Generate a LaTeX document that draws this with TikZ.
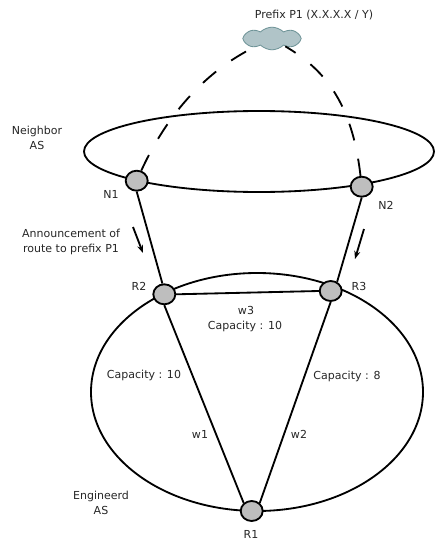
\documentclass[tikz,border=0pt]{standalone}
\usepackage{fontspec}
\setmainfont{DejaVu Sans}
\usetikzlibrary{shapes.geometric,shapes.symbols,arrows.meta}
\definecolor{cloudfill}{HTML}{B0C4C8}
\definecolor{clouddraw}{HTML}{6F9498}
\definecolor{routerfill}{HTML}{BEBEBE}
\definecolor{textgray}{HTML}{262626}
\tikzset{
  router/.style={draw,line width=0.55mm,fill=routerfill,ellipse,minimum width=6.6mm,minimum height=6mm,inner sep=0pt},
  lbl/.style={font=\fontsize{9.4}{12.6}\selectfont,text=textgray,align=center,inner sep=0pt},
  link/.style={line width=0.55mm},
  peering/.style={line width=0.55mm,dash pattern=on 5.2mm off 5.6mm},
  announce/.style={line width=0.55mm,-{Stealth[length=2.4mm,width=1.8mm]}}
}
\begin{document}
\begin{tikzpicture}[x=0.3mm,y=-0.3mm]
\useasboundingbox (0,0) rectangle (434,541);
\draw[link] (259,151.5) ellipse [x radius=175,y radius=40.5];
\draw[link] (257,392) ellipse [x radius=166,y radius=119];
\node[cloud,cloud puffs=8,cloud puff arc=90,aspect=2.8,draw=clouddraw,fill=cloudfill,line width=0.25mm,minimum width=17.5mm,minimum height=6.8mm,inner sep=0pt] (cloud) at (272,38.5) {};
\foreach \n/\x/\y in {N1/136.7/180.7, N2/361.7/186.7, R2/164.3/294.3, R3/330.7/291, R1/251.7/511} { \node[router] (\n) at (\x,\y) {}; }
\draw[link] (N1.south) -- (R2.100);
\draw[link] (N2.south) -- (R3.55);
\draw[link] (R2.east) -- (R3.west);
\draw[link] (R2.south) -- (R1.135);
\draw[link] (R3.south) -- (R1.45);
\draw[peering] (N1) .. controls (168,112) and (208,70) .. (cloud);
\draw[peering] (N2) .. controls (352,100) and (322,68) .. (cloud);
\coordinate (a1) at (133,227); \coordinate (a2) at (143,253);
\coordinate (b1) at (364,229); \coordinate (b2) at (355,259);
\draw[announce] (a1) -- (a2);
\draw[announce] (b1) -- (b2);
\node[lbl] (prefix) at (314,15) {Prefix P1 (X.X.X.X / Y)};
\node[lbl] (neighbor) at (37,138) {Neighbor\\AS};
\node[lbl] (route) at (71,242) {Announcement of\\route to prefix P1};
\node[lbl] (engineerd) at (101,503) {Engineerd\\AS};
\foreach \n/\t/\x/\y in {ln1/N1/111/194, ln2/N2/386/205, lr2/R2/139/286, lr3/R3/359/286, lr1/R1/251/534, lw1/w1/200/434, lw2/w2/299/434, lw3/w3/246/310, lc3/Capacity : 10/245/326, lc1/Capacity : 10/144/375, lc2/Capacity : 8/347/376} { \node[lbl] (\n) at (\x,\y) {\t}; }
\end{tikzpicture}
\end{document}
